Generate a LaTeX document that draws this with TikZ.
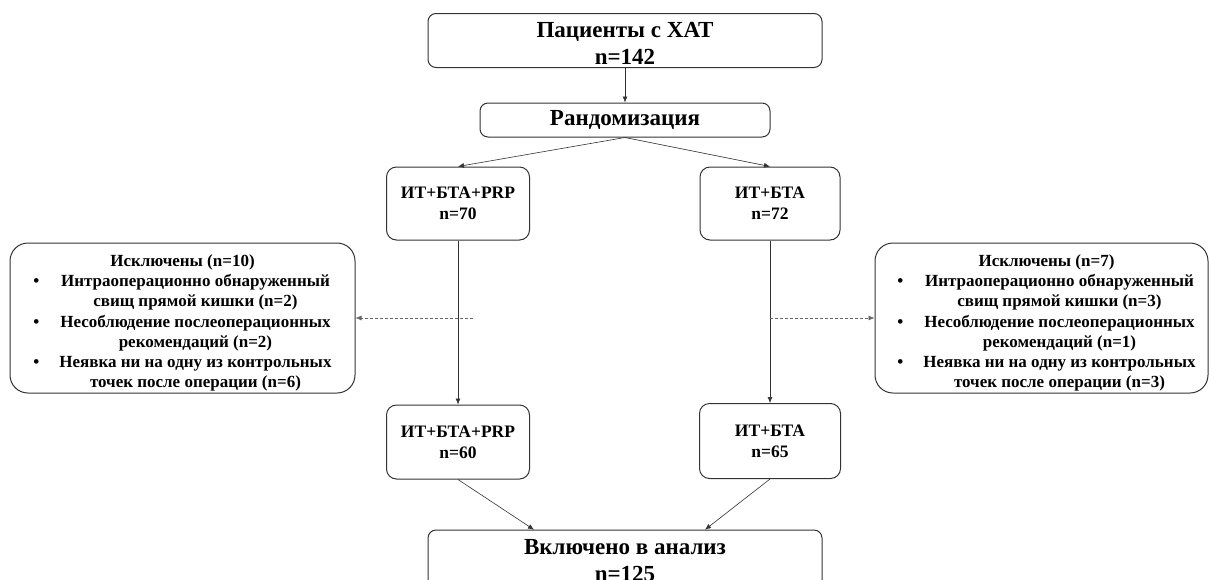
\documentclass[tikz,border=0pt]{standalone}
\usepackage{fontspec}
\setmainfont{Liberation Serif}
\usetikzlibrary{arrows.meta}
\tikzset{
  box/.style={draw=black!80, line width=1pt, rounded corners=#1, inner sep=0pt, align=center, font=\bfseries},
  box/.default=8pt,
  arr/.style={draw=black!80, line width=0.6pt, -{Latex[length=6pt,width=5pt]}},
  darr/.style={draw=black!60, line width=0.6pt, dash pattern=on 3pt off 2pt, -{Latex[length=6pt,width=5pt]}},
  bigtxt/.style={font=\bfseries\fontsize{23}{27}\selectfont},
  midtxt/.style={font=\bfseries\fontsize{17.5}{21}\selectfont},
  exbox/.style={draw=black!80, line width=1pt, rounded corners=18pt, inner sep=0pt, font=\bfseries\fontsize{17}{20.3}\selectfont},
}
\newcommand{\lowered}[1]{\raisebox{-5pt}[\height][\depth]{#1}}
\begin{document}
\begin{tikzpicture}[x=1pt,y=-1pt]
\useasboundingbox[fill=white] (0,0) rectangle (1209,579);
% top row
\node[box, bigtxt, minimum width=394pt, minimum height=53pt] (top) at (625,40.5) {\lowered{\begin{tabular}{@{}c@{}}Пациенты с ХАТ\\n=142\end{tabular}}};
\node[box, bigtxt, minimum width=290pt, minimum height=34pt] (rand) at (625,120) {Рандомизация};
% group boxes
\node[box=10pt, midtxt, minimum width=143pt, minimum height=73pt] (a1) at (458,203.5) {ИТ+БТА+PRP\\n=70};
\node[box=10pt, midtxt, minimum width=140pt, minimum height=73pt] (b1) at (770,203.5) {ИТ+БТА\\n=72};
\node[box=10pt, midtxt, minimum width=143pt, minimum height=74pt] (a2) at (458,442) {ИТ+БТА+PRP\\n=60};
\node[box=10pt, midtxt, minimum width=141pt, minimum height=75pt] (b2) at (770,441) {ИТ+БТА\\n=65};
\node[box, bigtxt, minimum width=394pt, minimum height=62pt] (inc) at (625,561) {Включено в анализ\\n=125};
% exclusion boxes
\node[exbox, minimum width=345pt, minimum height=150pt] (exL) at (182.5,318) {\lowered{%
\begin{tabular}{@{}l@{\hspace{20pt}}c@{}}
\multicolumn{2}{c}{Исключены (n=10)}\\
•& Интраоперационно обнаруженный\\
 & свищ прямой кишки (n=2)\\
•& Несоблюдение послеоперационных\\
 & рекомендаций (n=2)\\
•& Неявка ни на одну из контрольных\\
 & точек после операции (n=6)
\end{tabular}}};
\node[exbox, minimum width=333pt, minimum height=150pt] (exR) at (1041.5,318) {\hspace*{10pt}\lowered{%
\begin{tabular}{@{}l@{\hspace{20pt}}c@{}}
\multicolumn{2}{c}{Исключены (n=7)}\\
•& Интраоперационно обнаруженный\\
 & свищ прямой кишки (n=3)\\
•& Несоблюдение послеоперационных\\
 & рекомендаций (n=1)\\
•& Неявка ни на одну из контрольных\\
 & точек после операции (n=3)
\end{tabular}}};
% connectors
\draw[arr] (top.south) -- (rand.north);
\draw[arr] (rand.south) -- (a1.north);
\draw[arr] (rand.south) -- (b1.north);
\draw[arr] (a1.south) -- (a2.north);
\draw[arr] (b1.south) -- (b2.north);
\coordinate (dl) at (473,318);
\coordinate (dr) at (770,318);
\draw[darr] (dl) -- (exL.east);
\draw[darr] (dr) -- (exR.west);
\draw[arr] (a2.south) -- (534,529.7);
\draw[arr] (b2.south) -- (705,529.7);
\end{tikzpicture}
\end{document}
